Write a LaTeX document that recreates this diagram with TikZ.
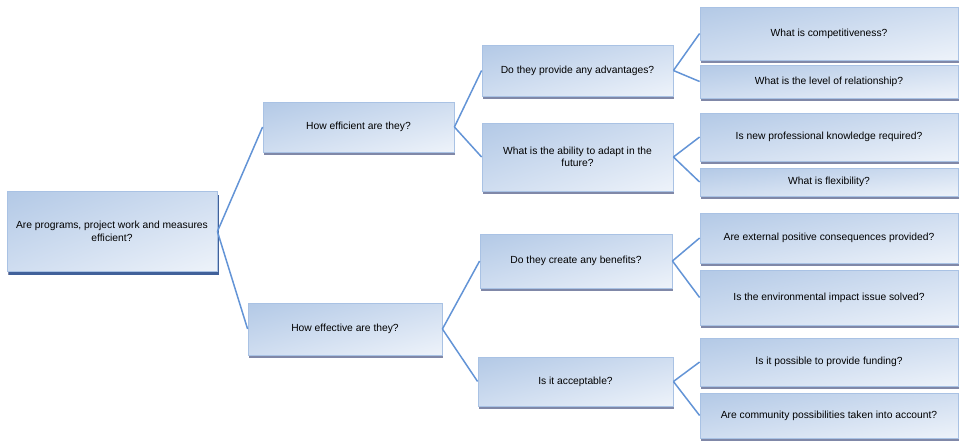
\documentclass[tikz,border=0pt]{standalone}
\usepackage{fontspec}
\setmainfont{Liberation Sans}
\usetikzlibrary{shadows,shadings}
\definecolor{boxedge}{HTML}{A9C2E4}
\definecolor{boxdark}{HTML}{B3C9E6}
\definecolor{boxmid}{HTML}{CFDDF0}
\definecolor{boxlight}{HTML}{EEF3FA}
\definecolor{boxshadow}{HTML}{8088A8}
\definecolor{rootshadow}{HTML}{41619A}
\definecolor{linkcol}{HTML}{6394D6}
\tikzset{
  qbox/.style={rectangle, draw=boxedge, line width=0.8pt,
    upper left=boxdark, upper right=boxmid, lower left=boxmid, lower right=boxlight,
    drop shadow={shadow xshift=0.8pt, shadow yshift=-3pt, fill=boxshadow, opacity=1},
    inner sep=2pt, align=center, font=\fontsize{10.3}{12.5}\selectfont},
  rootbox/.style={qbox,
    drop shadow={shadow xshift=2pt, shadow yshift=-3pt, fill=rootshadow, opacity=1}},
  link/.style={draw=linkcol, line width=1.5pt}
}
\begin{document}
\begin{tikzpicture}[x=1pt,y=-1pt]
\useasboundingbox (0,0) rectangle (960,445);
% level 0
\node[rootbox, minimum width=210pt, minimum height=80pt] (root) at (112,231.5) {Are programs, project work and measures\\efficient?};
% level 1
\node[qbox, minimum width=191pt, minimum height=50pt] (eff) at (358.5,127) {How efficient are they?};
\node[qbox, minimum width=194pt, minimum height=52pt] (efv) at (345,329) {How effective are they?};
% level 2
\node[qbox, minimum width=191pt, minimum height=51pt] (adv) at (577.5,70.5) {Do they provide any advantages?};
\node[qbox, minimum width=191pt, minimum height=68pt] (ada) at (577.5,157) {What is the ability to adapt in the\\future?};
\node[qbox, minimum width=192pt, minimum height=54pt] (ben) at (576,261) {Do they create any benefits?};
\node[qbox, minimum width=195pt, minimum height=49pt] (acc) at (575.5,381.5) {Is it acceptable?};
% level 3
\node[qbox, minimum width=258pt, minimum height=53pt] (r1) at (829,33.5) {What is competitiveness?};
\node[qbox, minimum width=258pt, minimum height=33pt] (r2) at (829,81.5) {What is the level of relationship?};
\node[qbox, minimum width=258pt, minimum height=48pt] (r3) at (829,137) {Is new professional knowledge required?};
\node[qbox, minimum width=258pt, minimum height=28pt] (r4) at (829,182) {What is flexibility?};
\node[qbox, minimum width=258pt, minimum height=50pt] (r5) at (829,238) {Are external positive consequences provided?};
\node[qbox, minimum width=258pt, minimum height=55pt] (r6) at (829,297.5) {Is the environmental impact issue solved?};
\node[qbox, minimum width=258pt, minimum height=48pt] (r7) at (829,362) {Is it possible to provide funding?};
\node[qbox, minimum width=258pt, minimum height=45pt] (r8) at (829,415.5) {Are community possibilities taken into account?};
% connectors
\draw[link] (root.east) -- (eff.west);
\draw[link] (root.east) -- (efv.west);
\draw[link] (eff.east) -- (adv.west);
\draw[link] (eff.east) -- (ada.west);
\draw[link] (efv.east) -- (ben.west);
\draw[link] (efv.east) -- (acc.west);
\draw[link] (adv.east) -- (r1.west);
\draw[link] (adv.east) -- (r2.west);
\draw[link] (ada.east) -- (r3.west);
\draw[link] (ada.east) -- (r4.west);
\draw[link] (ben.east) -- (r5.west);
\draw[link] (ben.east) -- (r6.west);
\draw[link] (acc.east) -- (r7.west);
\draw[link] (acc.east) -- (r8.west);
\end{tikzpicture}
\end{document}
